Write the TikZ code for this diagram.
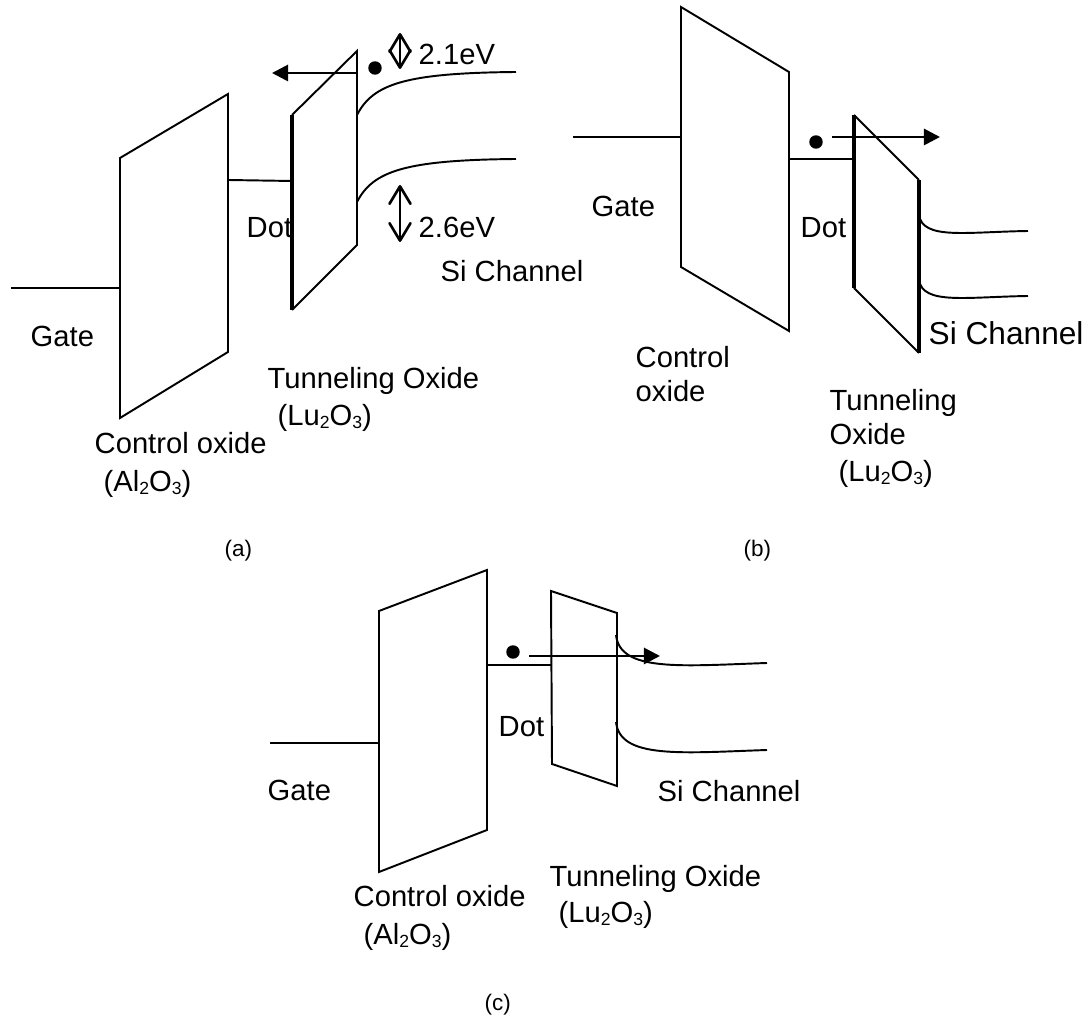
\documentclass[tikz,border=0pt]{standalone}
\usepackage{fontspec}
\setmainfont{Liberation Sans}
\usepackage{xcolor}
\usetikzlibrary{arrows.meta}

\newcommand{\subdig}[1]{\raisebox{-0.65pt}{\fontsize{5}{6}\selectfont #1}}

\tikzset{
  lbl/.style={anchor=base west, inner sep=0pt, font=\fontsize{8.3}{10}\selectfont},
  biglbl/.style={anchor=base west, inner sep=0pt, font=\fontsize{9}{11}\selectfont},
  caplbl/.style={anchor=base west, inner sep=0pt, font=\fontsize{6.4}{8}\selectfont},
  band/.style={line width=0.55pt},
  thickband/.style={line width=0.95pt},
  flow/.style={line width=0.8pt, -{Triangle[length=1.6mm, width=1.6mm]}},
  gap/.style={line width=0.75pt, {Straight Barb[length=1.75mm, width=2.1mm, round]}-{Straight Barb[length=1.75mm, width=2.1mm, round]}}
}

\begin{document}
\begin{tikzpicture}[x=0.01cm, y=-0.01cm]
\useasboundingbox (0,0) rectangle (1090,1019);

% Panel a
\coordinate (GAl) at (11,288);
\coordinate (COat) at (120,158);
\coordinate (COar) at (228,94);
\coordinate (CObr) at (228,352);
\coordinate (COal) at (120,418);
\coordinate (GAr) at (120,288);
\coordinate (DAl) at (228,180);
\coordinate (DAr) at (292,181);
\coordinate (TOat) at (292,115);
\coordinate (TOar) at (357,51);
\coordinate (TObr) at (357,245);
\coordinate (TOal) at (292,310);
\coordinate (FLa) at (357,73);
\coordinate (FLb) at (272,73);
\coordinate (CBa) at (357,115);
\coordinate (CBb) at (516,72);
\coordinate (VBa) at (357,202);
\coordinate (VBb) at (516,159);
\coordinate (GUa) at (400,33);
\coordinate (GUb) at (400,69);
\coordinate (GLa) at (400,185);
\coordinate (GLb) at (400,242);

\draw[band] (GAl) -- (GAr);
\draw[band] (COat) -- (COar) -- (CObr) -- (COal) -- cycle;
\draw[band] (DAl) -- (DAr);
\draw[band] (TOal) -- (TObr) -- (TOar) -- (TOat);
\draw[thickband] (TOat) -- (TOal);
\draw[flow] (FLa) -- (FLb);
\filldraw[black] (375,68) circle (6);
\draw[gap] (GUa) -- (GUb);
\draw[gap] (GLa) -- (GLb);
\draw[band] (CBa) .. controls (373,84) and (405,73) .. (CBb);
\draw[band] (VBa) .. controls (373,171) and (405,160) .. (VBb);

\node[lbl] (gatea) at (30,347) {Gate};
\node[lbl] (dota) at (246,238) {Dot};
\node[lbl] (upa) at (418,65) {2.1eV};
\node[lbl] (lowa) at (418,238) {2.6eV};
\node[lbl] (sia) at (440,282) {Si Channel};
\node[lbl] (tunna) at (267,389) {Tunneling Oxide};
\node[lbl] (lua) at (277,426) {(Lu\subdig{2}O\subdig{3})};
\node[lbl] (cona) at (94,454) {Control oxide};
\node[lbl] (ala) at (103,492) {(Al\subdig{2}O\subdig{3})};
\node[caplbl] (capa) at (224,557) {(a)};

% Panel b
\coordinate (GBl) at (573,137);
\coordinate (GBr) at (681,137);
\coordinate (CBtl) at (681,7);
\coordinate (CBtr) at (789,72);
\coordinate (CBbr) at (789,331);
\coordinate (CBbl) at (681,267);
\coordinate (DBl) at (789,159);
\coordinate (DBr) at (854,159);
\coordinate (TBtl) at (854,115);
\coordinate (TBtr) at (919,180);
\coordinate (TBbr) at (919,353);
\coordinate (TBbl) at (854,288);
\coordinate (FBa) at (832,137);
\coordinate (FBb) at (940,137);
\coordinate (UBa) at (919,215);
\coordinate (UBb) at (1028,231);
\coordinate (LBa) at (919,280);
\coordinate (LBb) at (1028,296);

\draw[band] (GBl) -- (GBr);
\draw[band] (CBtl) -- (CBtr) -- (CBbr) -- (CBbl) -- cycle;
\draw[band] (DBl) -- (DBr);
\draw[band] (TBtl) -- (TBtr);
\draw[band] (TBbl) -- (TBbr);
\draw[thickband] (TBtl) -- (TBbl);
\draw[thickband] (TBtr) -- (TBbr);
\filldraw[black] (816,142) circle (6);
\draw[flow] (FBa) -- (FBb);
\draw[band] (UBa) .. controls (923,240) and (965,232) .. (UBb);
\draw[band] (LBa) .. controls (923,305) and (965,297) .. (LBb);

\node[lbl] (gateb) at (591,217) {Gate};
\node[lbl] (dotb) at (800,238) {Dot};
\node[biglbl] (sib) at (928,345) {Si Channel};
\node[lbl] (conb) at (635,368) {Control};
\node[lbl] (oxb) at (635,402) {oxide};
\node[lbl] (tunb) at (829,411) {Tunneling};
\node[lbl] (toxb) at (829,445) {Oxide};
\node[lbl] (lub) at (838,482) {(Lu\subdig{2}O\subdig{3})};
\node[caplbl] (capb) at (743,557) {(b)};

% Panel c
\coordinate (GCl) at (270,743);
\coordinate (GCr) at (379,743);
\coordinate (CCtl) at (379,611);
\coordinate (CCtr) at (487,570);
\coordinate (CCbr) at (487,830);
\coordinate (CCbl) at (379,872);
\coordinate (DCl) at (487,665);
\coordinate (DCr) at (551,665);
\coordinate (TCtl) at (551,591);
\coordinate (TCtr) at (617,613);
\coordinate (TCbr) at (617,786);
\coordinate (TCbl) at (552,764);
\coordinate (FCa) at (529,656);
\coordinate (FCb) at (660,656);
\coordinate (UCa) at (616,635);
\coordinate (UCb) at (767,663);
\coordinate (LCa) at (616,722);
\coordinate (LCb) at (767,750);

\draw[band] (GCl) -- (GCr);
\draw[band] (CCtl) -- (CCtr) -- (CCbr) -- (CCbl) -- cycle;
\draw[band] (DCl) -- (DCr);
\draw[band] (TCtl) -- (TCtr) -- (TCbr) -- (TCbl) -- cycle;
\filldraw[black] (513,652) circle (6);
\draw[flow] (FCa) -- (FCb);
\draw[band] (UCa) .. controls (620,672) and (680,666) .. (UCb);
\draw[band] (LCa) .. controls (620,759) and (680,753) .. (LCb);

\node[lbl] (gatec) at (267,801) {Gate};
\node[lbl] (dotc) at (498,737) {Dot};
\node[lbl] (sic) at (657,802) {Si Channel};
\node[lbl] (tunc) at (549,887) {Tunneling Oxide};
\node[lbl] (luc) at (558,923) {(Lu\subdig{2}O\subdig{3})};
\node[lbl] (conc) at (353,907) {Control oxide};
\node[lbl] (alc) at (363,945) {(Al\subdig{2}O\subdig{3})};
\node[caplbl] (capc) at (484,1011) {(c)};
\end{tikzpicture}
\end{document}
